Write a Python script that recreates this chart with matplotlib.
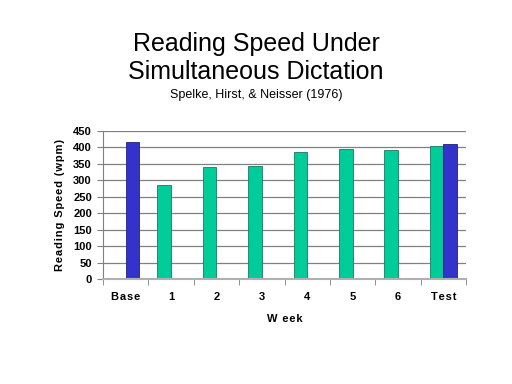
import numpy as np
import matplotlib
matplotlib.use("Agg")
import matplotlib.pyplot as plt

# Данные графика
categories = ["Base", "1", "2", "3", "4", "5", "6", "Test"]
week_speed = [np.nan, 285, 340, 345, 385, 395, 393, 405]
base_test_speed = [418, np.nan, np.nan, np.nan, np.nan, np.nan, np.nan, 410]
y_ticks = [0, 50, 100, 150, 200, 250, 300, 350, 400, 450]

plt.rcParams["font.family"] = ["Liberation Sans", "DejaVu Sans"]


# Разрядка букв (тонкий пробел между символами)
def spaced(s):
    return "\u200a".join(s)


fig = plt.figure(figsize=(5.12, 3.84), dpi=100)
ax = fig.add_axes([103 / 512, 1 - 279 / 384, 363 / 512, 148 / 384])

x = np.arange(len(categories))
w = 0.3
ax.bar(x - w / 2, week_speed, w, color="#00CC99", edgecolor="#1a7a60", linewidth=0.6, zorder=3)
ax.bar(x + w / 2, base_test_speed, w, color="#3333CC", edgecolor="#222277", linewidth=0.6, zorder=3)

ax.set_xlim(-0.5, len(categories) - 0.5)
ax.set_ylim(0, 450)
ax.set_yticks(y_ticks)
ax.set_yticklabels([str(t) for t in y_ticks], fontsize=8, fontweight="bold")
ax.yaxis.grid(True, color="#808080", linewidth=0.9, zorder=0)
ax.tick_params(axis="y", length=4, color="#808080", pad=4)

ax.set_xticks(x)
ax.set_xticklabels([spaced(c) for c in categories], fontsize=8, fontweight="bold")
ax.set_xticks(np.arange(len(categories) + 1) - 0.5, minor=True)
ax.tick_params(axis="x", which="major", length=0, pad=9)
ax.tick_params(axis="x", which="minor", length=4, color="#808080", direction="out")

for s in ["top", "right"]:
    ax.spines[s].set_visible(False)
ax.spines["left"].set_color("#808080")
ax.spines["left"].set_linewidth(0.8)
ax.spines["bottom"].set_color("#b0b0b0")
ax.spines["bottom"].set_linewidth(1.5)
ax.spines["bottom"].set_zorder(4)

ax.set_ylabel(spaced("Reading Speed (wpm)"), fontsize=8, fontweight="bold", labelpad=6)
ax.set_xlabel(spaced("W eek"), fontsize=8, fontweight="bold", labelpad=9)

fig.text(0.5, 1 - 58 / 384, "Reading Speed Under\nSimultaneous Dictation",
         ha="center", va="center", fontsize=18, linespacing=1.2)
fig.text(0.5, 1 - 95 / 384, "Spelke, Hirst, & Neisser (1976)",
         ha="center", va="center", fontsize=9)

plt.savefig("out.png", dpi=100)
